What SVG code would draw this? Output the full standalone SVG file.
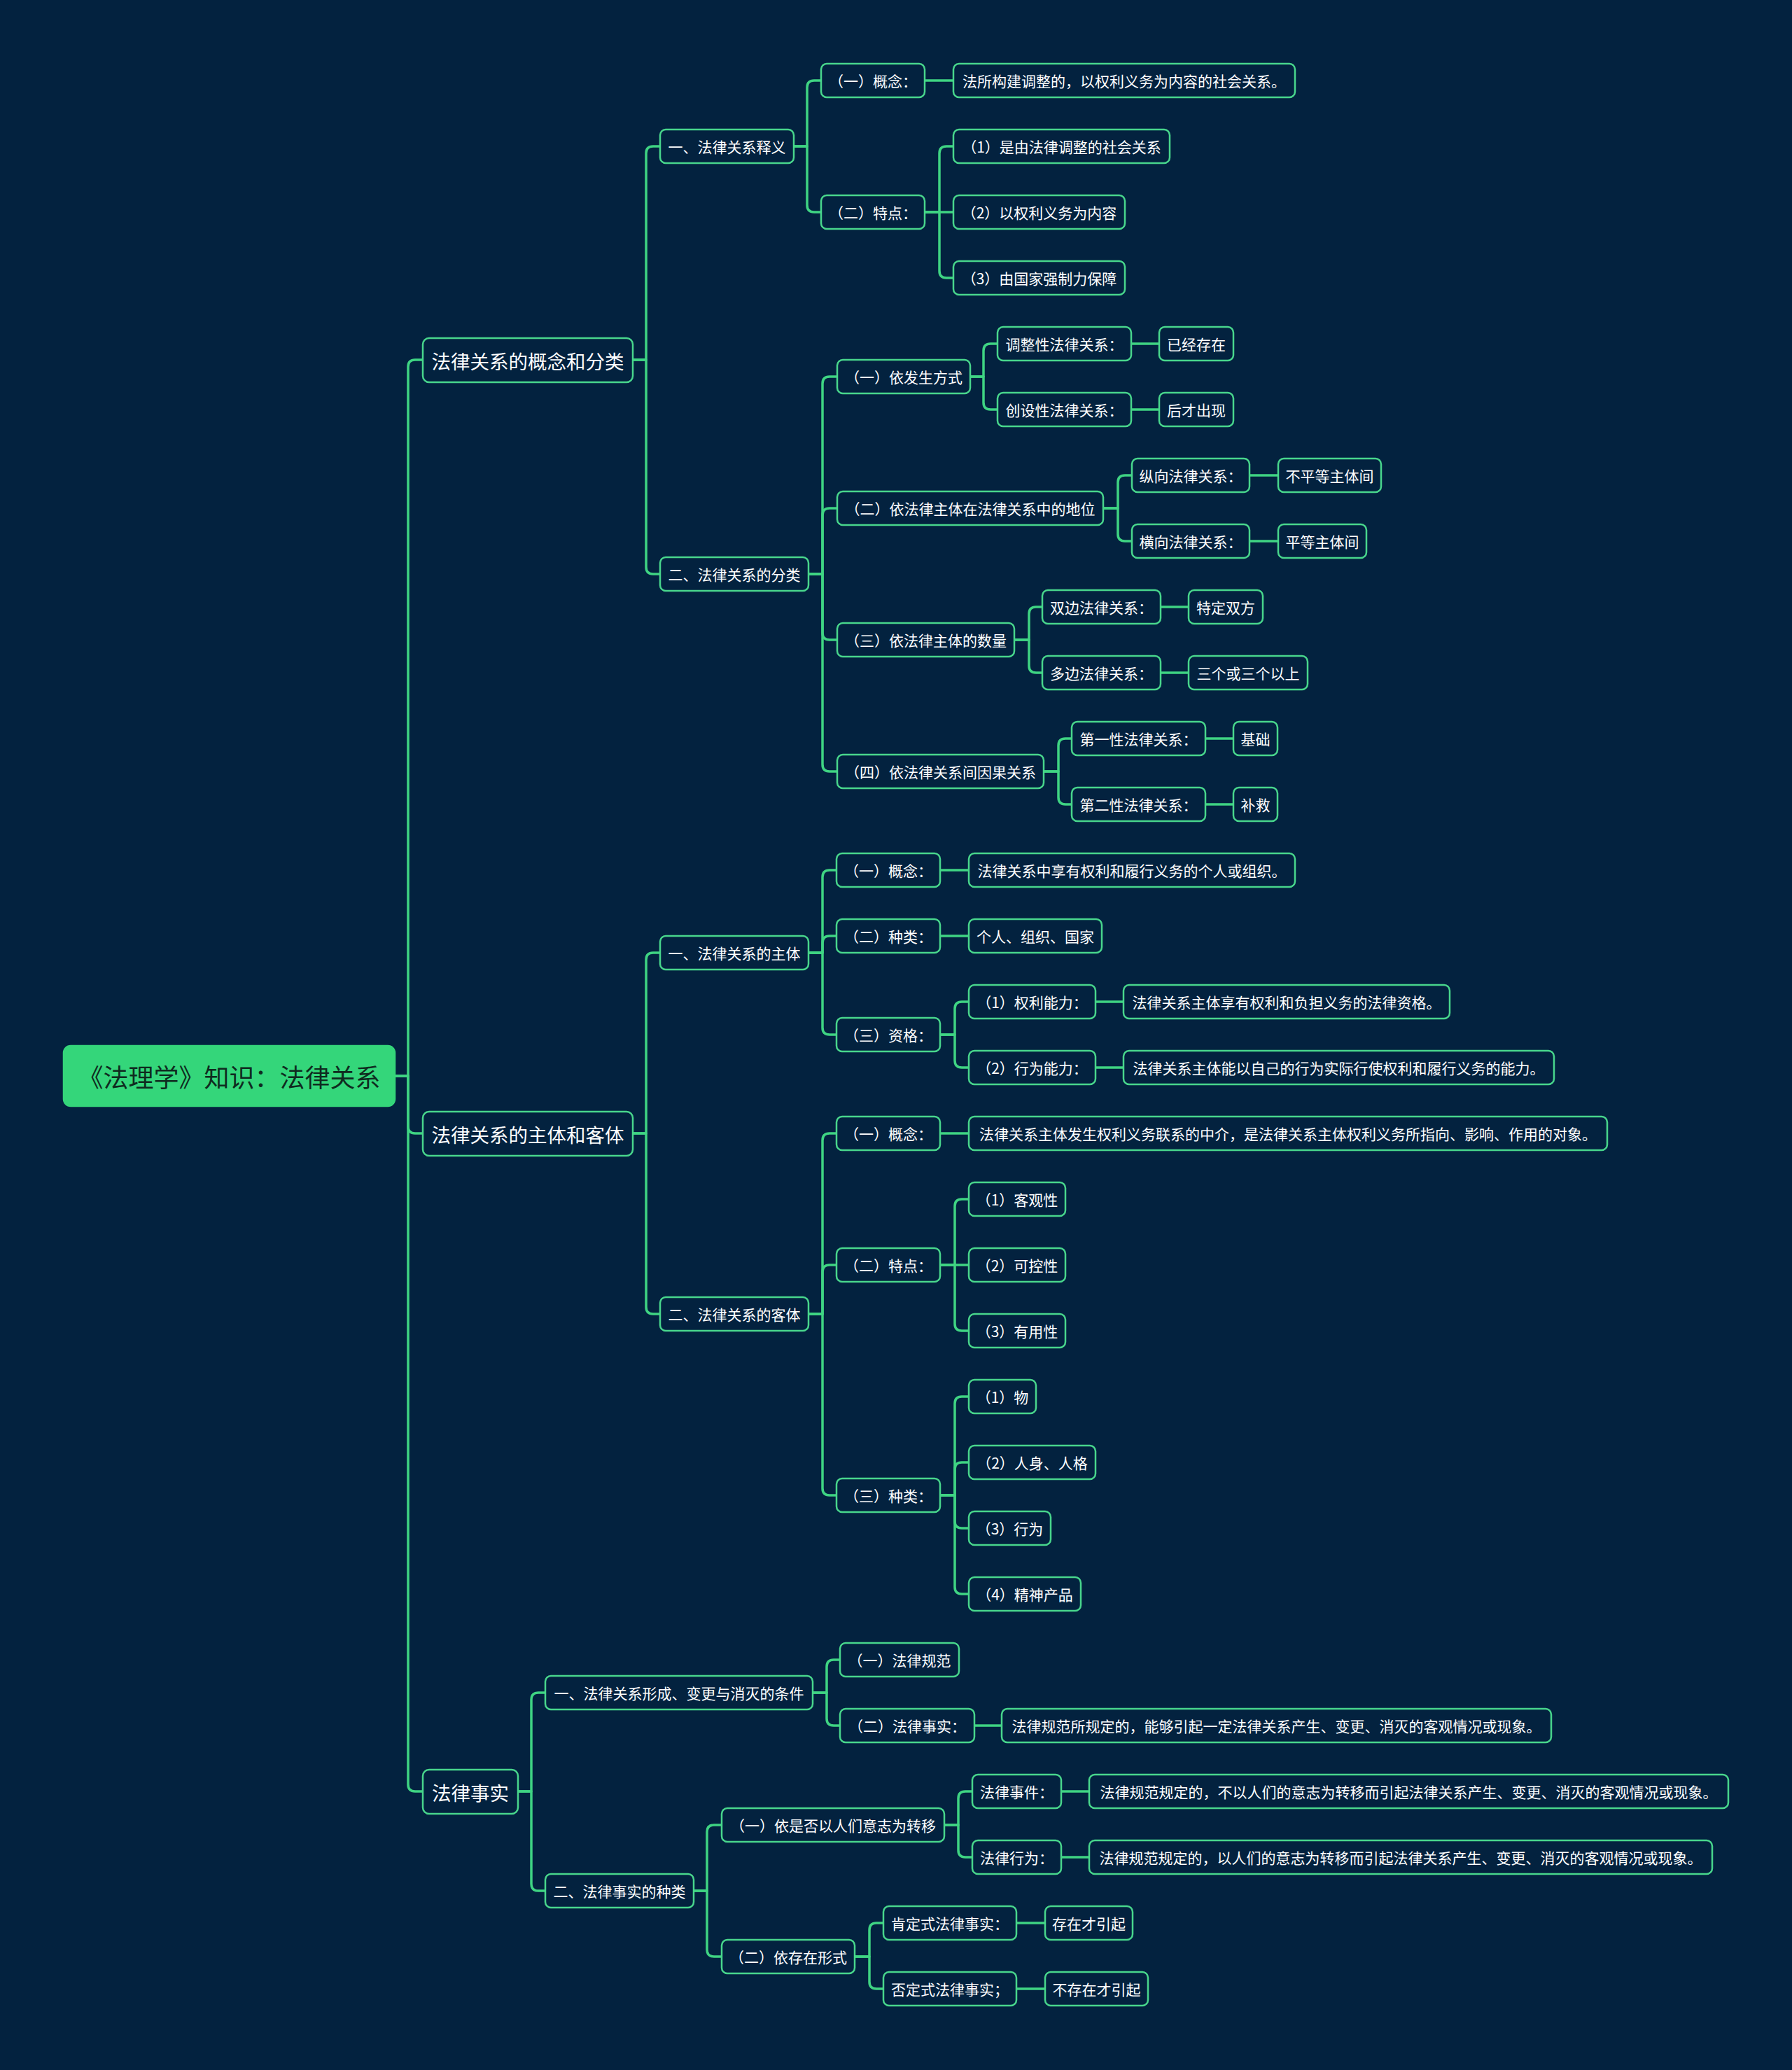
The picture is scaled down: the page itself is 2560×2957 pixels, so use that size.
<svg xmlns="http://www.w3.org/2000/svg" width="2560" height="2957" viewBox="0 0 2560 2957">
<style>
.bg{fill:#03223f}
.c{fill:none;stroke:#3fd483;stroke-width:3.5;stroke-linecap:round;stroke-linejoin:round}
.n rect{fill:#03223f;stroke:#48d68c;stroke-width:2.5}
.n text{fill:#ffffff;font-family:"Noto Sans CJK SC","Noto Sans",sans-serif;font-size:21px;text-anchor:middle;dominant-baseline:central}
.l1 rect{stroke-width:2.5}
.l1 text{font-size:27.5px}
.root rect{fill:#34d67a;stroke:#34d67a}
.root text{fill:#0f2b1f;font-size:36px}
</style>
<rect class="bg" x="0" y="0" width="2560" height="2957"/>
<g id="connectors">
<path class="c" d="M564 1537 H583 V524 Q583 514 593 514 H604"/>
<path class="c" d="M564 1537 H583 V1609 Q583 1619 593 1619 H604"/>
<path class="c" d="M564 1537 H583 V2549 Q583 2559 593 2559 H604"/>
<path class="c" d="M904 514 H923 V219 Q923 209 933 209 H943"/>
<path class="c" d="M904 514 H923 V810 Q923 820 933 820 H943"/>
<path class="c" d="M1134 209 H1153 V125 Q1153 115 1163 115 H1173"/>
<path class="c" d="M1134 209 H1153 V293 Q1153 303 1163 303 H1173"/>
<path class="c" d="M1321 115 H1362"/>
<path class="c" d="M1321 303 H1342 V219 Q1342 209 1352 209 H1362"/>
<path class="c" d="M1321 303 H1362"/>
<path class="c" d="M1321 303 H1342 V387 Q1342 397 1352 397 H1362"/>
<path class="c" d="M1155 820 H1175 V548 Q1175 538 1185 538 H1196"/>
<path class="c" d="M1155 820 H1175 V736 Q1175 726 1185 726 H1196"/>
<path class="c" d="M1155 820 H1175 V904 Q1175 914 1185 914 H1196"/>
<path class="c" d="M1155 820 H1175 V1092 Q1175 1102 1185 1102 H1196"/>
<path class="c" d="M1386 538 H1405 V501 Q1405 491 1415 491 H1425"/>
<path class="c" d="M1386 538 H1405 V575 Q1405 585 1415 585 H1425"/>
<path class="c" d="M1616 491 H1656"/>
<path class="c" d="M1616 585 H1656"/>
<path class="c" d="M1576 726 H1597 V689 Q1597 679 1607 679 H1617"/>
<path class="c" d="M1576 726 H1597 V763 Q1597 773 1607 773 H1617"/>
<path class="c" d="M1785 679 H1826"/>
<path class="c" d="M1785 773 H1826"/>
<path class="c" d="M1449 914 H1470 V877 Q1470 867 1480 867 H1489"/>
<path class="c" d="M1449 914 H1470 V951 Q1470 961 1480 961 H1489"/>
<path class="c" d="M1658 867 H1698"/>
<path class="c" d="M1658 961 H1698"/>
<path class="c" d="M1491 1102 H1512 V1065 Q1512 1055 1522 1055 H1531"/>
<path class="c" d="M1491 1102 H1512 V1139 Q1512 1149 1522 1149 H1531"/>
<path class="c" d="M1722 1055 H1762"/>
<path class="c" d="M1722 1149 H1762"/>
<path class="c" d="M904 1619 H923 V1371 Q923 1361 933 1361 H943"/>
<path class="c" d="M904 1619 H923 V1867 Q923 1877 933 1877 H943"/>
<path class="c" d="M1155 1361 H1175 V1253 Q1175 1243 1185 1243 H1195"/>
<path class="c" d="M1155 1361 H1175 V1347 Q1175 1337 1185 1337 H1195"/>
<path class="c" d="M1155 1361 H1175 V1468 Q1175 1478 1185 1478 H1195"/>
<path class="c" d="M1343 1243 H1384"/>
<path class="c" d="M1343 1337 H1384"/>
<path class="c" d="M1343 1478 H1364 V1441 Q1364 1431 1374 1431 H1384"/>
<path class="c" d="M1343 1478 H1364 V1515 Q1364 1525 1374 1525 H1384"/>
<path class="c" d="M1565 1431 H1605"/>
<path class="c" d="M1565 1525 H1605"/>
<path class="c" d="M1155 1877 H1175 V1629 Q1175 1619 1185 1619 H1195"/>
<path class="c" d="M1155 1877 H1175 V1817 Q1175 1807 1185 1807 H1195"/>
<path class="c" d="M1155 1877 H1175 V2126 Q1175 2136 1185 2136 H1195"/>
<path class="c" d="M1343 1619 H1384"/>
<path class="c" d="M1343 1807 H1364 V1723 Q1364 1713 1374 1713 H1384"/>
<path class="c" d="M1343 1807 H1384"/>
<path class="c" d="M1343 1807 H1364 V1891 Q1364 1901 1374 1901 H1384"/>
<path class="c" d="M1343 2136 H1364 V2005 Q1364 1995 1374 1995 H1384"/>
<path class="c" d="M1343 2136 H1364 V2099 Q1364 2089 1374 2089 H1384"/>
<path class="c" d="M1343 2136 H1364 V2173 Q1364 2183 1374 2183 H1384"/>
<path class="c" d="M1343 2136 H1364 V2267 Q1364 2277 1374 2277 H1384"/>
<path class="c" d="M740 2559 H759 V2428 Q759 2418 769 2418 H779"/>
<path class="c" d="M740 2559 H759 V2691 Q759 2701 769 2701 H779"/>
<path class="c" d="M1161 2418 H1181 V2381 Q1181 2371 1191 2371 H1200"/>
<path class="c" d="M1161 2418 H1181 V2455 Q1181 2465 1191 2465 H1200"/>
<path class="c" d="M1392 2465 H1431"/>
<path class="c" d="M991 2701 H1010 V2617 Q1010 2607 1020 2607 H1031"/>
<path class="c" d="M991 2701 H1010 V2785 Q1010 2795 1020 2795 H1031"/>
<path class="c" d="M1349 2607 H1369 V2569 Q1369 2559 1379 2559 H1389"/>
<path class="c" d="M1349 2607 H1369 V2643 Q1369 2653 1379 2653 H1389"/>
<path class="c" d="M1516 2559 H1556"/>
<path class="c" d="M1516 2653 H1556"/>
<path class="c" d="M1221 2795 H1242 V2757 Q1242 2747 1252 2747 H1262"/>
<path class="c" d="M1221 2795 H1242 V2831 Q1242 2841 1252 2841 H1262"/>
<path class="c" d="M1452 2747 H1493"/>
<path class="c" d="M1452 2841 H1493"/>
</g>
<g id="root" class="n root"><rect x="91" y="1494" width="473" height="86" rx="10"/><text x="327.5" y="1537">《法理学》知识：法律关系</text></g>
<g id="n-a" class="n l1"><rect x="604" y="483" width="300" height="63" rx="9"/><text x="754" y="514.5">法律关系的概念和分类</text></g>
<g id="n-b" class="n l1"><rect x="604" y="1588" width="300" height="63" rx="9"/><text x="754" y="1619.5">法律关系的主体和客体</text></g>
<g id="n-c" class="n l1"><rect x="604" y="2528" width="136" height="63" rx="9"/><text x="672" y="2559.5">法律事实</text></g>
<g id="n-a1" class="n"><rect x="943" y="185" width="191" height="48" rx="8"/><text x="1038.5" y="209">一、法律关系释义</text></g>
<g id="n-a1a" class="n"><rect x="1173" y="91" width="148" height="48" rx="8"/><text x="1247" y="115">（一）概念：</text></g>
<g id="n-a1a1" class="n"><rect x="1362" y="91" width="488" height="48" rx="8"/><text x="1606" y="115">法所构建调整的，以权利义务为内容的社会关系。</text></g>
<g id="n-a1b" class="n"><rect x="1173" y="279" width="148" height="48" rx="8"/><text x="1247" y="303">（二）特点：</text></g>
<g id="n-a1b1" class="n"><rect x="1362" y="185" width="309" height="48" rx="8"/><text x="1516.5" y="209">（1）是由法律调整的社会关系</text></g>
<g id="n-a1b2" class="n"><rect x="1362" y="279" width="245" height="48" rx="8"/><text x="1484.5" y="303">（2）以权利义务为内容</text></g>
<g id="n-a1b3" class="n"><rect x="1362" y="373" width="245" height="48" rx="8"/><text x="1484.5" y="397">（3）由国家强制力保障</text></g>
<g id="n-a2" class="n"><rect x="943" y="796" width="212" height="48" rx="8"/><text x="1049" y="820">二、法律关系的分类</text></g>
<g id="n-a2a" class="n"><rect x="1196" y="514" width="190" height="48" rx="8"/><text x="1291" y="538">（一）依发生方式</text></g>
<g id="n-a2a1" class="n"><rect x="1425" y="467" width="191" height="48" rx="8"/><text x="1520.5" y="491">调整性法律关系：</text></g>
<g id="n-a2a1v" class="n"><rect x="1656" y="467" width="106" height="48" rx="8"/><text x="1709" y="491">已经存在</text></g>
<g id="n-a2a2" class="n"><rect x="1425" y="561" width="191" height="48" rx="8"/><text x="1520.5" y="585">创设性法律关系：</text></g>
<g id="n-a2a2v" class="n"><rect x="1656" y="561" width="106" height="48" rx="8"/><text x="1709" y="585">后才出现</text></g>
<g id="n-a2b" class="n"><rect x="1196" y="702" width="380" height="48" rx="8"/><text x="1386" y="726">（二）依法律主体在法律关系中的地位</text></g>
<g id="n-a2b1" class="n"><rect x="1617" y="655" width="168" height="48" rx="8"/><text x="1701" y="679">纵向法律关系：</text></g>
<g id="n-a2b1v" class="n"><rect x="1826" y="655" width="147" height="48" rx="8"/><text x="1899.5" y="679">不平等主体间</text></g>
<g id="n-a2b2" class="n"><rect x="1617" y="749" width="168" height="48" rx="8"/><text x="1701" y="773">横向法律关系：</text></g>
<g id="n-a2b2v" class="n"><rect x="1826" y="749" width="126" height="48" rx="8"/><text x="1889" y="773">平等主体间</text></g>
<g id="n-a2c" class="n"><rect x="1196" y="890" width="253" height="48" rx="8"/><text x="1322.5" y="914">（三）依法律主体的数量</text></g>
<g id="n-a2c1" class="n"><rect x="1489" y="843" width="169" height="48" rx="8"/><text x="1573.5" y="867">双边法律关系：</text></g>
<g id="n-a2c1v" class="n"><rect x="1698" y="843" width="106" height="48" rx="8"/><text x="1751" y="867">特定双方</text></g>
<g id="n-a2c2" class="n"><rect x="1489" y="937" width="169" height="48" rx="8"/><text x="1573.5" y="961">多边法律关系：</text></g>
<g id="n-a2c2v" class="n"><rect x="1698" y="937" width="170" height="48" rx="8"/><text x="1783" y="961">三个或三个以上</text></g>
<g id="n-a2d" class="n"><rect x="1196" y="1078" width="295" height="48" rx="8"/><text x="1343.5" y="1102">（四）依法律关系间因果关系</text></g>
<g id="n-a2d1" class="n"><rect x="1531" y="1031" width="191" height="48" rx="8"/><text x="1626.5" y="1055">第一性法律关系：</text></g>
<g id="n-a2d1v" class="n"><rect x="1762" y="1031" width="63" height="48" rx="8"/><text x="1793.5" y="1055">基础</text></g>
<g id="n-a2d2" class="n"><rect x="1531" y="1125" width="191" height="48" rx="8"/><text x="1626.5" y="1149">第二性法律关系：</text></g>
<g id="n-a2d2v" class="n"><rect x="1762" y="1125" width="63" height="48" rx="8"/><text x="1793.5" y="1149">补救</text></g>
<g id="n-b1" class="n"><rect x="943" y="1337" width="212" height="48" rx="8"/><text x="1049" y="1361">一、法律关系的主体</text></g>
<g id="n-b1a" class="n"><rect x="1195" y="1219" width="148" height="48" rx="8"/><text x="1269" y="1243">（一）概念：</text></g>
<g id="n-b1a1" class="n"><rect x="1384" y="1219" width="466" height="48" rx="8"/><text x="1617" y="1243">法律关系中享有权利和履行义务的个人或组织。</text></g>
<g id="n-b1b" class="n"><rect x="1195" y="1313" width="148" height="48" rx="8"/><text x="1269" y="1337">（二）种类：</text></g>
<g id="n-b1b1" class="n"><rect x="1384" y="1313" width="190" height="48" rx="8"/><text x="1479" y="1337">个人、组织、国家</text></g>
<g id="n-b1c" class="n"><rect x="1195" y="1454" width="148" height="48" rx="8"/><text x="1269" y="1478">（三）资格：</text></g>
<g id="n-b1c1" class="n"><rect x="1384" y="1407" width="181" height="48" rx="8"/><text x="1474.5" y="1431">（1）权利能力：</text></g>
<g id="n-b1c1v" class="n"><rect x="1605" y="1407" width="466" height="48" rx="8"/><text x="1838" y="1431">法律关系主体享有权利和负担义务的法律资格。</text></g>
<g id="n-b1c2" class="n"><rect x="1384" y="1501" width="181" height="48" rx="8"/><text x="1474.5" y="1525">（2）行为能力：</text></g>
<g id="n-b1c2v" class="n"><rect x="1605" y="1501" width="615" height="48" rx="8"/><text x="1912.5" y="1525">法律关系主体能以自己的行为实际行使权利和履行义务的能力。</text></g>
<g id="n-b2" class="n"><rect x="943" y="1853" width="212" height="48" rx="8"/><text x="1049" y="1877">二、法律关系的客体</text></g>
<g id="n-b2a" class="n"><rect x="1195" y="1595" width="148" height="48" rx="8"/><text x="1269" y="1619">（一）概念：</text></g>
<g id="n-b2a1" class="n"><rect x="1384" y="1595" width="912" height="48" rx="8"/><text x="1840" y="1619">法律关系主体发生权利义务联系的中介，是法律关系主体权利义务所指向、影响、作用的对象。</text></g>
<g id="n-b2b" class="n"><rect x="1195" y="1783" width="148" height="48" rx="8"/><text x="1269" y="1807">（二）特点：</text></g>
<g id="n-b2b1" class="n"><rect x="1384" y="1689" width="138" height="48" rx="8"/><text x="1453" y="1713">（1）客观性</text></g>
<g id="n-b2b2" class="n"><rect x="1384" y="1783" width="138" height="48" rx="8"/><text x="1453" y="1807">（2）可控性</text></g>
<g id="n-b2b3" class="n"><rect x="1384" y="1877" width="138" height="48" rx="8"/><text x="1453" y="1901">（3）有用性</text></g>
<g id="n-b2c" class="n"><rect x="1195" y="2112" width="148" height="48" rx="8"/><text x="1269" y="2136">（三）种类：</text></g>
<g id="n-b2c1" class="n"><rect x="1384" y="1971" width="96" height="48" rx="8"/><text x="1432" y="1995">（1）物</text></g>
<g id="n-b2c2" class="n"><rect x="1384" y="2065" width="181" height="48" rx="8"/><text x="1474.5" y="2089">（2）人身、人格</text></g>
<g id="n-b2c3" class="n"><rect x="1384" y="2159" width="117" height="48" rx="8"/><text x="1442.5" y="2183">（3）行为</text></g>
<g id="n-b2c4" class="n"><rect x="1384" y="2253" width="160" height="48" rx="8"/><text x="1464" y="2277">（4）精神产品</text></g>
<g id="n-c1" class="n"><rect x="779" y="2394" width="382" height="48" rx="8"/><text x="970" y="2418">一、法律关系形成、变更与消灭的条件</text></g>
<g id="n-c1a" class="n"><rect x="1200" y="2347" width="170" height="48" rx="8"/><text x="1285" y="2371">（一）法律规范</text></g>
<g id="n-c1b" class="n"><rect x="1200" y="2441" width="192" height="48" rx="8"/><text x="1296" y="2465">（二）法律事实：</text></g>
<g id="n-c1b1" class="n"><rect x="1431" y="2441" width="785" height="48" rx="8"/><text x="1823.5" y="2465">法律规范所规定的，能够引起一定法律关系产生、变更、消灭的客观情况或现象。</text></g>
<g id="n-c2" class="n"><rect x="779" y="2677" width="212" height="48" rx="8"/><text x="885" y="2701">二、法律事实的种类</text></g>
<g id="n-c2a" class="n"><rect x="1031" y="2583" width="318" height="48" rx="8"/><text x="1190" y="2607">（一）依是否以人们意志为转移</text></g>
<g id="n-c2a1" class="n"><rect x="1389" y="2535" width="127" height="48" rx="8"/><text x="1452.5" y="2559">法律事件：</text></g>
<g id="n-c2a1v" class="n"><rect x="1556" y="2535" width="913" height="48" rx="8"/><text x="2012.5" y="2559">法律规范规定的，不以人们的意志为转移而引起法律关系产生、变更、消灭的客观情况或现象。</text></g>
<g id="n-c2a2" class="n"><rect x="1389" y="2629" width="127" height="48" rx="8"/><text x="1452.5" y="2653">法律行为：</text></g>
<g id="n-c2a2v" class="n"><rect x="1556" y="2629" width="890" height="48" rx="8"/><text x="2001" y="2653">法律规范规定的，以人们的意志为转移而引起法律关系产生、变更、消灭的客观情况或现象。</text></g>
<g id="n-c2b" class="n"><rect x="1031" y="2771" width="190" height="48" rx="8"/><text x="1126" y="2795">（二）依存在形式</text></g>
<g id="n-c2b1" class="n"><rect x="1262" y="2723" width="190" height="48" rx="8"/><text x="1357" y="2747">肯定式法律事实：</text></g>
<g id="n-c2b1v" class="n"><rect x="1493" y="2723" width="125" height="48" rx="8"/><text x="1555.5" y="2747">存在才引起</text></g>
<g id="n-c2b2" class="n"><rect x="1262" y="2817" width="190" height="48" rx="8"/><text x="1357" y="2841">否定式法律事实；</text></g>
<g id="n-c2b2v" class="n"><rect x="1493" y="2817" width="147" height="48" rx="8"/><text x="1566.5" y="2841">不存在才引起</text></g>
</svg>
